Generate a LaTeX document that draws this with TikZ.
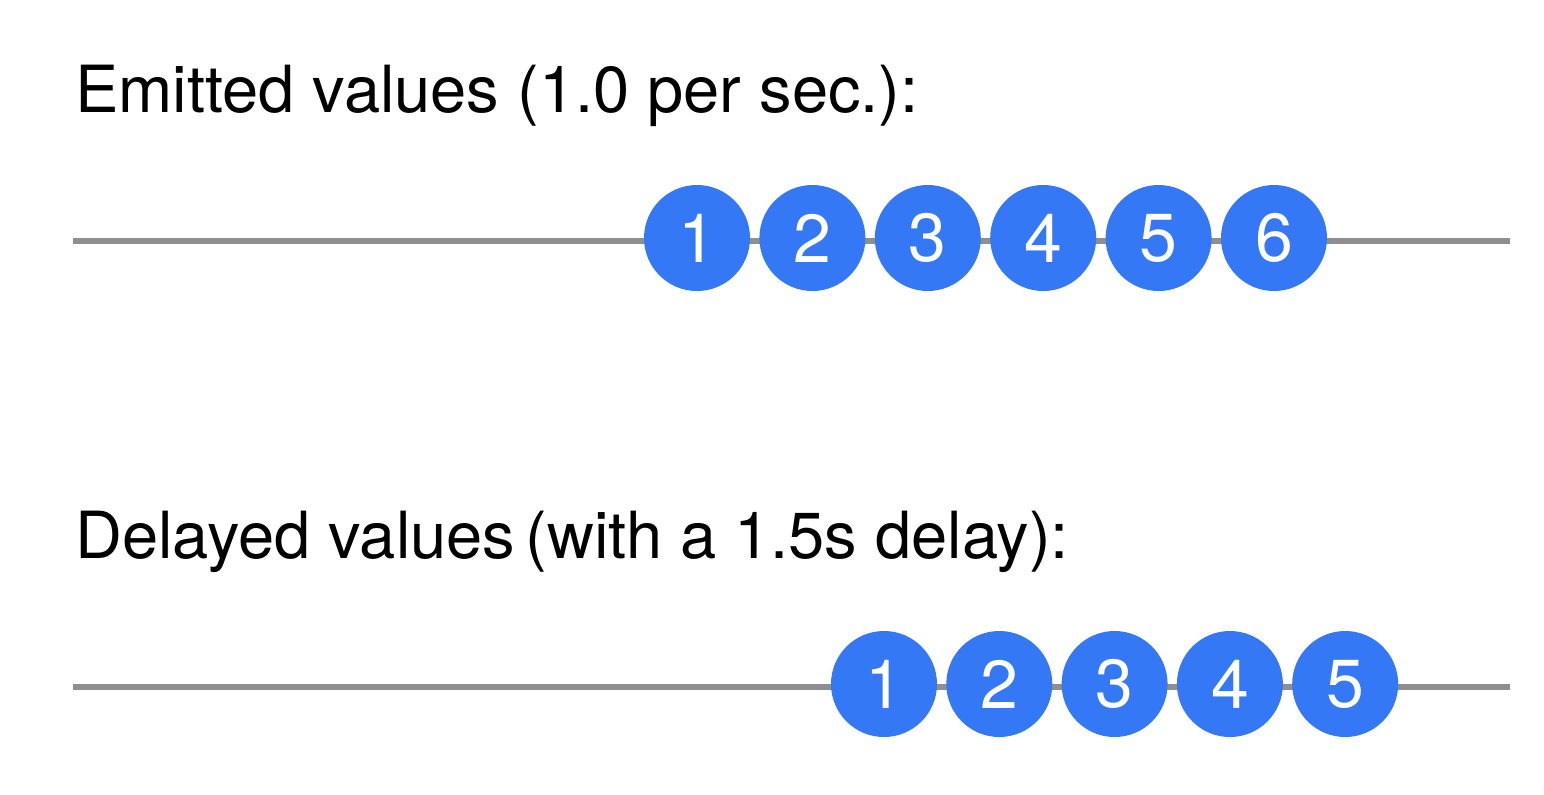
\documentclass[tikz,border=0pt]{standalone}
\usepackage{fontspec}
\setmainfont{TeX Gyre Heros}
\usetikzlibrary{positioning}
\definecolor{ballblue}{HTML}{3478F6}
\definecolor{trackgray}{HTML}{8E8E93}

\begin{document}
\begin{tikzpicture}[x=0.5pt,y=-0.5pt,
    ball/.style={circle,fill=ballblue,text=white,minimum size=53pt,inner sep=0pt,
      font=\fontsize{34}{34}\selectfont},
    track/.style={draw=trackgray,line width=3.3pt},
    caption/.style={anchor=base west,inner sep=0pt,font=\fontsize{32.5}{36}\selectfont}]
 \useasboundingbox (0,0) rectangle (1544,794);
 \node[caption] (emitted) at (75,112) {Emitted values (1.0 per sec.):};
 \node[caption] (delayed) at (75,558) {Delayed values\hspace{-0.12em} (with a 1.5s delay):};
 \coordinate (eL) at (73,241); \coordinate (eR) at (1510,241);
 \coordinate (dL) at (73,687); \coordinate (dR) at (1510,687);
 \draw[track] (eL) -- (eR);
 \draw[track] (dL) -- (dR);
 \foreach \X in {1,...,6} {\node[ball] (e\X) at ({697+115.4*(\X-1)},238) {\X};}
 \foreach \X in {1,...,5} {\node[ball] (d\X) at ({884+115.3*(\X-1)},684) {\X};}
\end{tikzpicture}
\end{document}
